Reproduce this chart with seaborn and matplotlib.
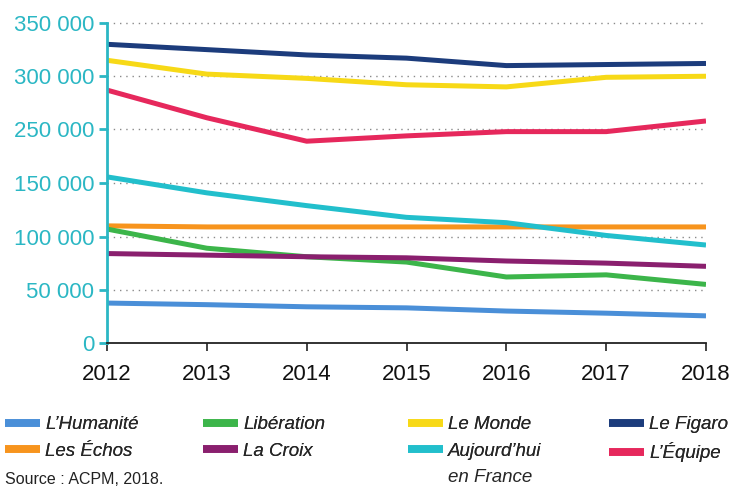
import numpy as np
import pandas as pd
import seaborn as sns
import matplotlib
matplotlib.use("Agg")
import matplotlib.pyplot as plt
from matplotlib.lines import Line2D

years = [2012, 2013, 2014, 2015, 2016, 2017, 2018]
humanite = [37500, 36000, 34000, 33000, 30000, 28000, 25500]
echos = [110000, 109000, 109000, 109000, 109000, 109000, 109000]
liberation = [107000, 89000, 81000, 76000, 62000, 64000, 55000]
la_croix = [84000, 82500, 81000, 80000, 77000, 75000, 72000]
le_monde = [315000, 302000, 298000, 292000, 290000, 299000, 300000]
aujourdhui = [156000, 141000, 129000, 118000, 113000, 101000, 92000]
le_figaro = [330000, 325000, 320000, 317000, 310000, 311000, 312000]
equipe = [287000, 261000, 239000, 244000, 248000, 248000, 258000]

names = ["L\u2019Humanité", "Les Échos", "Libération", "La Croix",
         "Le Monde", "Aujourd\u2019hui\nen France", "Le Figaro", "L\u2019Équipe"]
series = [humanite, echos, liberation, la_croix, le_monde, aujourdhui, le_figaro, equipe]
colors = ["#4a8fd8", "#f7941d", "#3cb54a", "#8a1f6e",
          "#f7d917", "#22bfcc", "#1c3c7c", "#e6285c"]
yticks = [0, 50000, 100000, 150000, 250000, 300000, 350000]
source = "Source : ACPM, 2018."

df = pd.DataFrame({
    "year": years * len(names),
    "value": [v for s in series for v in s],
    "journal": [n for n in names for _ in years],
})

sns.set_theme(style="white")
plt.rcParams["font.family"] = ["Liberation Sans", "DejaVu Sans"]

fig = plt.figure(figsize=(7.32, 4.90), dpi=100)
ax = fig.add_axes([107 / 732, 1 - 343 / 490, (706 - 107) / 732, (343 - 23) / 490])

# broken axis: the range 180 000 - 230 000 is squeezed out
B1, B2, S = 180000.0, 230000.0, 0.01

def fwd(v):
    v = np.asarray(v, dtype=float)
    return np.where(v <= B1, v, np.where(v < B2, B1 + (v - B1) * S, v - (B2 - B1) * (1 - S)))

def inv(u):
    u = np.asarray(u, dtype=float)
    top = B1 + (B2 - B1) * S
    return np.where(u <= B1, u, np.where(u < top, B1 + (u - B1) / S, u + (B2 - B1) * (1 - S)))

ax.set_yscale("function", functions=(fwd, inv))

palette = dict(zip(names, colors))
sns.lineplot(data=df, x="year", y="value", hue="journal", palette=palette,
             linewidth=3.6, legend=False, ax=ax, solid_capstyle="butt")

ax.set_xlim(2012, 2018)
ax.set_ylim(0, 350000)
ax.set_xticks(years)
ax.set_xticklabels([str(y) for y in years])
ax.set_yticks(yticks)
ax.set_yticklabels([f"{t:,}".replace(",", " ") for t in yticks])
ax.set_xlabel("")
ax.set_ylabel("")

for t in yticks[1:]:
    ax.axhline(t, color="#8a8a8a", linestyle=(0, (1, 3.5)), linewidth=1, zorder=0, clip_on=False)

for s in ["top", "right"]:
    ax.spines[s].set_visible(False)
ax.spines["left"].set_color("#2bb7c4")
ax.spines["left"].set_linewidth(2)
ax.spines["bottom"].set_color("#222222")
ax.spines["bottom"].set_linewidth(1.3)

ax.tick_params(axis="y", colors="#2bb7c4", labelcolor="#2bb7c4", length=6, width=2,
               direction="out", left=True, labelsize=16, pad=3)
ax.tick_params(axis="x", colors="#222222", labelcolor="#111111", length=6, width=1.2,
               direction="out", bottom=True, labelsize=16, pad=9)

# legend: four columns of two entries each; a wrapped label keeps its
# swatch beside its first line, the rest goes underneath as text
leg_font = {"style": "italic", "size": 13.5}
col_x = [5 / 732, 203 / 732, 408 / 732, 609 / 732]
extra_lines = []
for i, x0 in enumerate(col_x):
    idx = [2 * i, 2 * i + 1]
    hs = [Line2D([0], [0], color=colors[k], linewidth=5.5, solid_capstyle="butt") for k in idx]
    labels = [names[k].split("\n")[0] for k in idx]
    lg = fig.legend(hs, labels, loc="upper left",
                    bbox_to_anchor=(x0, 1 - 416 / 490), frameon=False,
                    prop=leg_font, handlelength=1.85, handletextpad=0.3,
                    labelspacing=0.5, borderaxespad=0.0, borderpad=0.0)
    fig.add_artist(lg)
    for k, txt in zip(idx, lg.get_texts()):
        rest = names[k].split("\n")[1:]
        if rest:
            extra_lines.append((txt, "\n".join(rest)))

fig.canvas.draw()
for txt, rest in extra_lines:
    bb = txt.get_window_extent()
    fig.text(bb.x0 / fig.bbox.width, (bb.y0 - 26) / fig.bbox.height, rest,
             fontsize=13.5, style="italic", color=txt.get_color(),
             ha="left", va="bottom")

fig.text(5 / 732, 1 - 479 / 490, source, fontsize=11.5, color="#222222",
         ha="left", va="center")

fig.savefig("out.png", dpi=100)
